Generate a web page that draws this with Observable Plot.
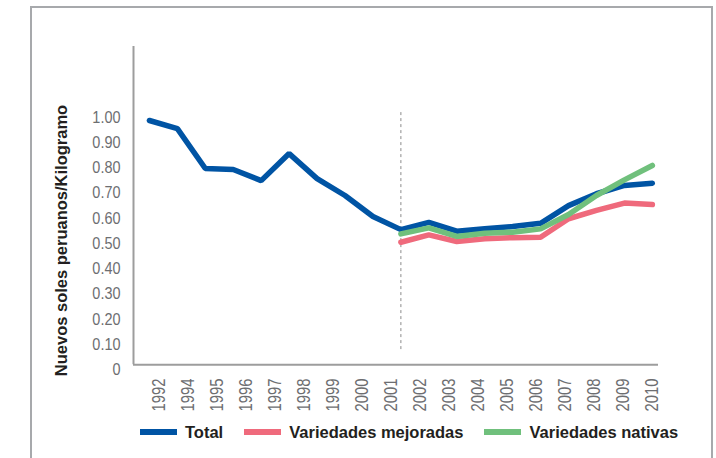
<!DOCTYPE html>
<html>
<head>
<meta charset="utf-8">
<script src="https://cdn.jsdelivr.net/npm/d3@7"></script>
<script src="https://cdn.jsdelivr.net/npm/@observablehq/plot@0.6"></script>
<style>
  html, body { margin: 0; padding: 0; background: #fff; }
  #wrap { position: relative; width: 716px; height: 458px; overflow: hidden; background: #fff; }
  #border { position: absolute; left: 30px; top: 6px; width: 683px; height: 520px; border: 2px solid #a7a9ac; box-sizing: border-box; pointer-events: none; z-index: 10; }
  #chart svg, #axis svg { overflow: visible; }
  #axis { margin-top: -4px; }
  #legend { display: flex; align-items: center; height: 36px; padding-left: 140px; box-sizing: border-box;
            font: bold 16.5px "Liberation Sans", Arial, sans-serif; color: #231f20; }
  .item { display: flex; align-items: center; margin-right: 21px; }
  .sw { width: 37px; height: 6px; margin-right: 8px; }
</style>
</head>
<body>
<div id="wrap">
  <div id="chart"></div>
  <div id="axis"></div>
  <div id="legend"></div>
  <div id="border"></div>
</div>
<script>
// ---- data ----
const years = [1992,1993,1994,1995,1996,1997,1998,1999,2000,2001,2002,2003,2004,2005,2006,2007,2008,2009,2010];
const total = [0.987,0.955,0.797,0.793,0.749,0.856,0.757,0.690,0.607,0.555,0.584,0.549,0.558,0.567,0.580,0.650,0.697,0.730,0.739];
const yearsNew = [2001,2002,2003,2004,2005,2006,2007,2008,2009,2010];
const mejoradas = [0.505,0.534,0.508,0.519,0.523,0.525,0.598,0.631,0.660,0.654];
const nativas = [0.538,0.562,0.528,0.541,0.545,0.558,0.615,0.690,0.752,0.809];
const xLabels = ["1992","1994","1995","1996","1997","1998","1999","2000","2001","2002","2003","2004","2005","2006","2007","2008","2009","2010"];
const yTicks = [0,0.1,0.2,0.3,0.4,0.5,0.6,0.7,0.8,0.9,1.0];
const yTickLabels = ["0","0.10","0.20","0.30","0.40","0.50","0.60","0.70","0.80","0.90","1.00"];
const seriesNames = ["Total","Variedades mejoradas","Variedades nativas"];
const seriesColors = ["#0054a4","#ef6a7c","#70c07c"];
const yTitle = "Nuevos soles peruanos/Kilogramo";
const dividerYear = 2001;
const xDomain = [1991.43, 2010.22];
const yDomain = [0, 1.28];

const rows = [
  ...years.map((year, i) => ({year, value: total[i], series: seriesNames[0]})),
  ...yearsNew.map((year, i) => ({year, value: mejoradas[i], series: seriesNames[1]})),
  ...yearsNew.map((year, i) => ({year, value: nativas[i], series: seriesNames[2]}))
];
const tickLabel = new Map(yTicks.map((t, i) => [t, yTickLabels[i]]));
const sans = '"Liberation Sans", Arial, sans-serif';
const axisGray = "#9d9d9d";
const labelGray = "#6d6e71";

const chart = Plot.plot({
  width: 716, height: 380,
  marginTop: 46, marginBottom: 10.7, marginLeft: 133, marginRight: 58,
  style: {background: "transparent", fontFamily: sans},
  x: {domain: xDomain, axis: null},
  y: {domain: yDomain},
  color: {domain: seriesNames, range: seriesColors},
  marks: [
    Plot.ruleX([dividerYear], {y1: 0.08, y2: 1.03, stroke: "#8a8a8a", strokeWidth: 1, strokeDasharray: "3,3"}),
    Plot.lineY(rows, {x: "year", y: "value", z: "series", stroke: "series", strokeWidth: 5.5, strokeLinejoin: "miter"}),
    Plot.axisY(yTicks, {tickSize: 0, tickPadding: 13, tickFormat: d => tickLabel.get(d), fontSize: 17, fill: labelGray, label: null, className: "cond"}),
    Plot.ruleY([0], {dy: -5, stroke: axisGray, strokeWidth: 2}),
    Plot.ruleX([xDomain[0]], {insetBottom: 5, stroke: axisGray, strokeWidth: 2}),
    Plot.text([yTitle], {frameAnchor: "left", textAnchor: "middle", y: (yTicks[0] + yTicks[yTicks.length - 1]) / 2, rotate: -90, dx: -72, dy: -3,
      fontWeight: "bold", fontSize: 16.5, fontFamily: sans, fill: "#231f20", letterSpacing: "0.8px"})
  ]
});
document.getElementById("chart").appendChild(chart);

const axis = Plot.plot({
  width: 716, height: 38,
  marginTop: 0, marginBottom: 38, marginLeft: 158, marginRight: 63,
  style: {background: "transparent", fontFamily: sans},
  x: {type: "point", domain: xLabels, padding: 0},
  marks: [
    Plot.axisX({tickRotate: -90, tickSize: 0, tickPadding: 2, fontSize: 17.5, fill: labelGray, label: null, className: "cond"})
  ]
});
document.getElementById("axis").appendChild(axis);

// condensed look for tick labels (the reference uses a condensed face)
document.querySelectorAll("g.cond text").forEach(el => {
  const len = el.getComputedTextLength();
  if (len > 0) {
    el.setAttribute("textLength", (len * 0.85).toFixed(2));
    el.setAttribute("lengthAdjust", "spacingAndGlyphs");
  }
});

const legend = document.getElementById("legend");
seriesNames.forEach((name, i) => {
  const item = document.createElement("div");
  item.className = "item";
  const sw = document.createElement("span");
  sw.className = "sw";
  sw.style.background = seriesColors[i];
  const t = document.createElement("span");
  t.textContent = name;
  item.appendChild(sw);
  item.appendChild(t);
  legend.appendChild(item);
});
</script>
</body>
</html>
